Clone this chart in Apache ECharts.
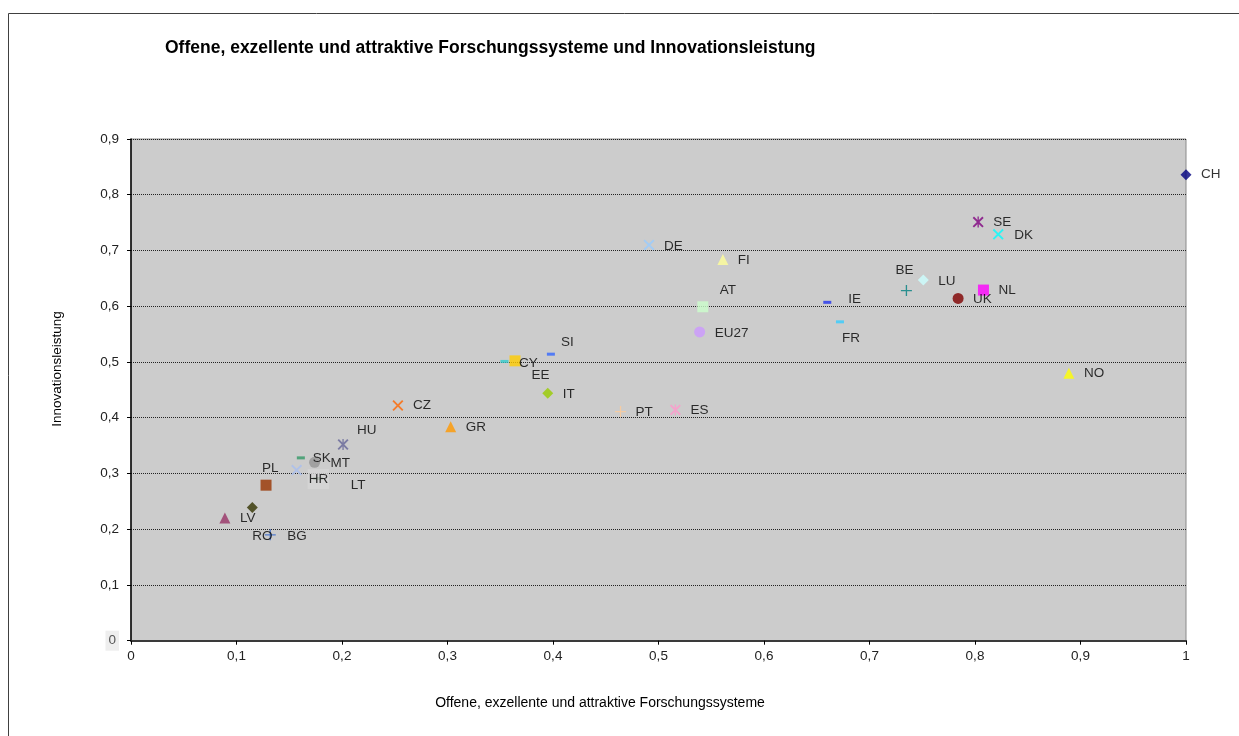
<!DOCTYPE html>
<html>
<head>
<meta charset="utf-8">
<script src="https://cdn.jsdelivr.net/npm/echarts@6/dist/echarts.min.js"></script>
<style>
html,body{margin:0;padding:0;background:#fff;}
#chart{width:1239px;height:736px;}
</style>
</head>
<body>
<div id="chart"></div>
<script>
// ---- data ----
const countries = ['CH','SE','DK','DE','FI','AT','EU27','IE','FR','BE','LU','UK','NL','NO','SI','CY','EE','IT','CZ','GR','PT','ES','HU','SK','MT','PL','HR','LT','LV','RO','BG'];
const openness  = [1.000,0.803,0.822,0.491,0.561,0.542,0.539,0.660,0.672,0.735,0.751,0.784,0.808,0.889,0.398,0.364,0.354,0.395,0.253,0.303,0.464,0.516,0.201,0.161,0.174,0.128,0.157,0.177,0.089,0.115,0.132];
const innovation= [0.836,0.751,0.729,0.710,0.684,0.599,0.554,0.607,0.572,0.628,0.647,0.614,0.629,0.480,0.514,0.502,0.501,0.444,0.422,0.384,0.411,0.414,0.352,0.328,0.320,0.279,0.306,0.291,0.220,0.239,0.190];
const xTicks = [0,0.1,0.2,0.3,0.4,0.5,0.6,0.7,0.8,0.9,1];
const yTicks = [0,0.1,0.2,0.3,0.4,0.5,0.6,0.7,0.8,0.9];

// ---- styles ----
const P_X = 'path://M0,1.2L1.2,0L5,3.8L8.8,0L10,1.2L6.2,5L10,8.8L8.8,10L5,6.2L1.2,10L0,8.8L3.8,5Z';
const P_STAR = 'path://M0,1.2L1.2,0L5,3.8L8.8,0L10,1.2L6.2,5L10,8.8L8.8,10L5,6.2L1.2,10L0,8.8L3.8,5ZM4.4,0L5.6,0L5.6,10L4.4,10Z';
const P_PLUS = 'path://M4.4,0H5.6V4.4H10V5.6H5.6V10H4.4V5.6H0V4.4H4.4Z';
const shapes = {
  diamond:['diamond',11], triangle:['triangle',11], square:['rect',11], circle:['circle',11],
  x:[P_X,11], star:[P_STAR,11], plus:[P_PLUS,11], dash:['rect',[8,3]], dashL:['rect',[10,3]]
};
const markerKind = ['diamond','star','x','x','triangle','square','circle','dash','dash','plus','diamond','circle','square','triangle','dash','square','dash','diamond','x','triangle','plus','star','star','dash','circle','square','x','dashL','triangle','diamond','plus'];
const markerColor = ['#000080','#800080','#00FFFF','#99CCFF','#FFFF99','#CCFFCC','#CC99FF','#2233EE','#33CCFF','#008080','#CCFFFF','#800000','#FF00FF','#FFFF00','#3366FF','#FFCC00','#33CCCC','#99CC00','#FF6600','#FF9900','#FFCC99','#FF99CC','#666699','#339966','#969696','#993300','#A8BEF0','#336633','#993366','#333300','#3366CC'];
const labelOffset = [[15,0],[15,0],[16,1],[15,1],[15,1],[17,-17],[15,1],[21,-3],[2,16],[-11,-20],[15,1],[15,1],[15,0],[15,0],[10,-12],[4,2],[27,14],[15,1],[15,0],[15,1],[15,1],[15,0],[14,-14],[12,0],[16,1],[-4,-17],[11,9],[33,7],[15,0],[0,29],[17,1]];

const FONT = '"Liberation Sans", Arial, sans-serif';
const fmt = v => (Math.abs(v) < 1e-9 ? '0' : (Math.abs(v-1) < 1e-9 ? '1' : v.toFixed(1).replace('.', ',')));

const data = countries.map((c, i) => {
  const sh = shapes[markerKind[i]];
  const item = {
    name: c,
    value: [openness[i], innovation[i]],
    symbol: sh[0],
    symbolSize: sh[1],
    itemStyle: { color: markerColor[i] }
  };
  if (c === 'HR') {
    item.label = { backgroundColor: '#d6d6d6', padding: [3, 1, 3, 1] };
  }
  return item;
});

const chart = echarts.init(document.getElementById('chart'), null, { renderer: 'canvas' });
chart.setOption({
  animation: false,
  backgroundColor: '#ffffff',
  title: {
    text: 'Offene, exzellente und attraktive Forschungssysteme und Innovationsleistung',
    left: 165, top: 39, padding: 0,
    textStyle: { fontFamily: FONT, fontSize: 17.5, fontWeight: 'bold', color: '#000' }
  },
  grid: {
    left: 131, top: 139, right: 53, bottom: 95.3,
    show: true, backgroundColor: '#cccccc', borderColor: '#8a8a8a', borderWidth: 1
  },
  xAxis: {
    type: 'value', min: xTicks[0], max: xTicks[xTicks.length-1], interval: 0.1,
    axisLine: { show: true, onZero: false, lineStyle: { color: '#3a3a3a', width: 2 } },
    axisTick: { show: true, inside: false, length: 4, lineStyle: { color: '#000' } },
    axisLabel: { margin: 9, fontFamily: FONT, fontSize: 13.5, color: '#222', formatter: fmt },
    splitLine: { show: false }
  },
  yAxis: {
    type: 'value', min: yTicks[0], max: yTicks[yTicks.length-1], interval: 0.1,
    axisLine: { show: true, onZero: false, lineStyle: { color: '#000', width: 1.5 } },
    axisTick: { show: true, inside: false, length: 4, lineStyle: { color: '#000' } },
    axisLabel: {
      margin: 12, fontFamily: FONT, fontSize: 13.5, color: '#222',
      formatter: v => (Math.abs(v) < 1e-9 ? '{z|0}' : fmt(v)),
      rich: { z: { fontFamily: FONT, fontSize: 13.5, color: '#555', backgroundColor: '#eeeeee', padding: [3, 3, 3, 3] } }
    },
    splitLine: { show: true, lineStyle: { color: '#222', type: 'dotted', width: 1 } }
  },
  series: [{
    type: 'scatter',
    data: data,
    clip: false,
    label: {
      show: true, position: 'inside', align: 'left', verticalAlign: 'middle',
      formatter: p => p.name,
      fontFamily: FONT, fontSize: 13.5, color: '#000'
    },
    labelLayout: p => ({ dx: labelOffset[p.dataIndex][0], dy: labelOffset[p.dataIndex][1], hideOverlap: false }),
    emphasis: { disabled: true }
  }],
  graphic: [
    { type: 'rect', shape: { x: 8.5, y: 13.5, width: 1400, height: 900 }, style: { fill: 'none', stroke: '#404040', lineWidth: 1 }, silent: true, z: -1 },
    { type: 'text', x: 600, y: 703, style: { text: 'Offene, exzellente und attraktive Forschungssysteme', font: '14px "Liberation Sans", Arial, sans-serif', fill: '#000', align: 'center', verticalAlign: 'middle', textAlign: 'center', textVerticalAlign: 'middle' } },
    { type: 'text', x: 57, y: 369, rotation: Math.PI / 2, style: { text: 'Innovationsleistung', font: '13.5px "Liberation Sans", Arial, sans-serif', fill: '#000', align: 'center', verticalAlign: 'middle', textAlign: 'center', textVerticalAlign: 'middle' } }
  ]
});
</script>
</body>
</html>
